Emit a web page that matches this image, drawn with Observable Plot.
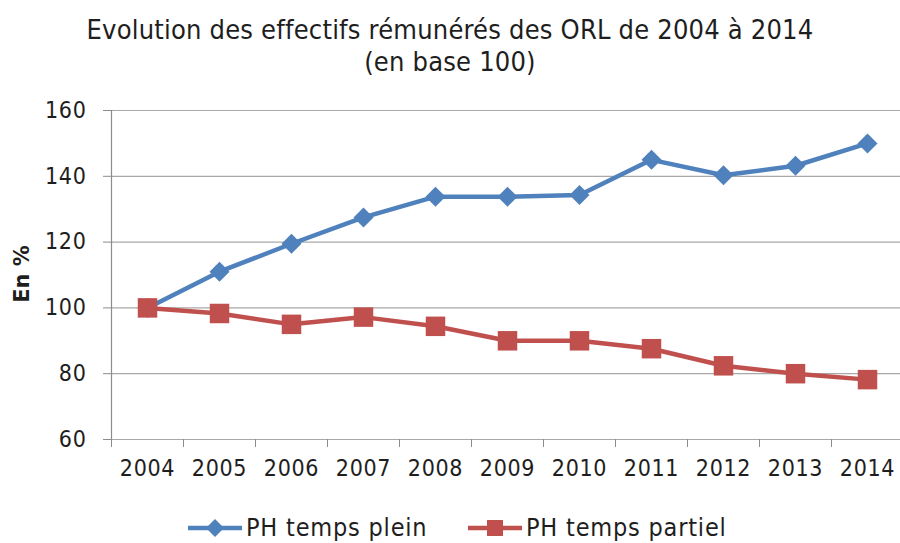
<!DOCTYPE html>
<html>
<head>
<meta charset="utf-8">
<script src="https://cdn.jsdelivr.net/npm/d3@7"></script>
<script src="https://cdn.jsdelivr.net/npm/@observablehq/plot@0.6"></script>
<style>
  html, body { margin: 0; padding: 0; background: #fff; }
  body { width: 900px; height: 543px; position: relative; overflow: hidden;
         font-family: "DejaVu Sans Condensed", "Liberation Sans Narrow", sans-serif; color: #1e1e1e; }
  #title { position: absolute; left: 0; top: 14px; width: 900px; text-align: center;
           font-size: 27px; line-height: 32px; letter-spacing: 0.2px; }
  #chart { position: absolute; left: 0; top: 90px; }
  #ylab { position: absolute; left: 22px; top: 274px; transform: translate(-50%, -50%) rotate(-90deg);
          font-weight: bold; font-size: 21px; white-space: nowrap; font-family: "DejaVu Sans", sans-serif; }
  #legend { position: absolute; left: 0; top: 512px; width: 900px; height: 32px; }
  .li { position: absolute; top: 0; font-size: 25px; line-height: 32px; white-space: nowrap; letter-spacing: 0.8px; }
  #chart text { letter-spacing: 0.7px; }
</style>
</head>
<body>
<div id="title">Evolution des effectifs rémunérés des ORL de 2004 à 2014<br>(en base 100)</div>
<div id="ylab">En %</div>
<div id="chart"></div>
<div id="legend"></div>
<script>
const years = [2004, 2005, 2006, 2007, 2008, 2009, 2010, 2011, 2012, 2013, 2014];
const pleinValues = [100, 111, 119.5, 127.5, 133.8, 133.8, 134.3, 145, 140.3, 143.2, 150];
const partielValues = [100, 98.3, 95, 97.2, 94.4, 90, 90, 87.6, 82.4, 80, 78.2];
const yTicks = [60, 80, 100, 120, 140, 160];
const seriesNames = ["PH temps plein", "PH temps partiel"];
const colors = ["#4F81BD", "#C0504D"];

const bounds = d3.range(years.length + 1).map(i => years[0] - 0.5 + i);
const plein = years.map((y, i) => ({year: y, value: pleinValues[i]}));
const partiel = years.map((y, i) => ({year: y, value: partielValues[i]}));

const chart = Plot.plot({
  width: 900,
  height: 400,
  marginTop: 20,
  marginBottom: 51,
  marginLeft: 111,
  marginRight: 0,
  style: {fontFamily: '"DejaVu Sans Condensed", sans-serif', fontSize: "23px", color: "#1e1e1e", background: "transparent", overflow: "visible"},
  x: {type: "linear", domain: [bounds[0], bounds[bounds.length - 1]], range: [111, 903]},
  y: {domain: [60, 160]},
  marks: [
    Plot.ruleY(yTicks, {x1: bounds[0], x2: bounds[bounds.length - 1], stroke: "#a8a8a8", strokeWidth: 1.2}),
    Plot.ruleX([bounds[0]], {y1: 60, y2: 160, stroke: "#8c8c8c", strokeWidth: 1.2}),
    Plot.axisY({ticks: yTicks, tickSize: 8, tickPadding: 17, stroke: "#8c8c8c", label: null, fontSize: 23}),
    Plot.axisX({ticks: bounds, tickSize: 8, tickFormat: () => "", stroke: "#8c8c8c", label: null}),
    Plot.text(years, {x: d => d, y: 60, dy: 29, text: d => String(d), fontSize: 23, fill: "#1e1e1e"}),
    Plot.lineY(plein, {x: "year", y: "value", stroke: colors[0], strokeWidth: 4.5}),
    Plot.lineY(partiel, {x: "year", y: "value", stroke: colors[1], strokeWidth: 4.5}),
    Plot.dot(plein, {x: "year", y: "value", symbol: "diamond2", r: 9, fill: colors[0], stroke: null}),
    Plot.dot(partiel, {x: "year", y: "value", symbol: "square", r: 11, fill: colors[1], stroke: null})
  ]
});
document.getElementById("chart").appendChild(chart);

// Legend
const legend = document.getElementById("legend");
const items = [
  {name: seriesNames[0], color: colors[0], symbol: "diamond", left: 187},
  {name: seriesNames[1], color: colors[1], symbol: "square", left: 467}
];
items.forEach(it => {
  const ns = "http://www.w3.org/2000/svg";
  const svg = document.createElementNS(ns, "svg");
  svg.setAttribute("width", 56); svg.setAttribute("height", 32);
  svg.style.position = "absolute"; svg.style.left = it.left + "px"; svg.style.top = "0px";
  const line = document.createElementNS(ns, "line");
  line.setAttribute("x1", 1); line.setAttribute("x2", 55); line.setAttribute("y1", 16); line.setAttribute("y2", 16);
  line.setAttribute("stroke", it.color); line.setAttribute("stroke-width", 4.5);
  svg.appendChild(line);
  const p = document.createElementNS(ns, "path");
  if (it.symbol === "diamond") p.setAttribute("d", "M28,7L37,16L28,25L19,16Z");
  else p.setAttribute("d", "M20,8H36V24H20Z");
  p.setAttribute("fill", it.color);
  svg.appendChild(p);
  legend.appendChild(svg);
  const t = document.createElement("div");
  t.className = "li"; t.textContent = it.name; t.style.left = (it.left + 59) + "px";
  legend.appendChild(t);
});
</script>
</body>
</html>
